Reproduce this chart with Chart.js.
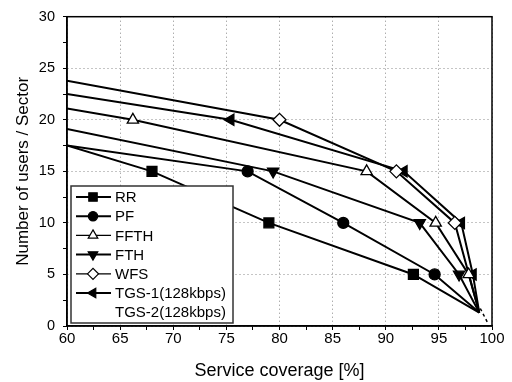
<!DOCTYPE html>
<html><head><meta charset="utf-8">
<script src="https://cdn.jsdelivr.net/npm/chart.js@4/dist/chart.umd.min.js"></script>
<style>html,body{margin:0;padding:0;background:#fff}canvas{display:block}</style>
</head><body><canvas id="c" width="512" height="382"></canvas>
<script>
// ---- data ----
const rrX   = [60, 68, 79, 92.6, 98.8];
const rrY   = [17.5, 15, 10, 5, 1.3];
const pfX   = [60, 77, 86, 94.6, 98.8];
const pfY   = [17.5, 15, 10, 5, 1.3];
const ffthX = [60, 66.2, 88.2, 94.7, 97.8, 98.8];
const ffthY = [21.1, 20, 15, 10, 5, 1.3];
const fthX  = [60, 79.4, 93.2, 96.9, 98.8];
const fthY  = [19.1, 15, 10, 5, 1.3];
const wfsX  = [60, 80, 91, 96.5, 98.8];
const wfsY  = [23.8, 20, 15, 10, 1.3];
const tgs1X = [60, 75.4, 91.7, 97.1, 98.2, 98.8];
const tgs1Y = [22.5, 20, 15, 10, 5, 1.3];
const tgs2X = [98.9, 99.6];
const tgs2Y = [1.7, 0.3];
const xTicks = [60, 65, 70, 75, 80, 85, 90, 95, 100];
const yTicks = [0, 5, 10, 15, 20, 25, 30];

const pts = (xs, ys) => xs.map((x, i) => ({x: x, y: ys[i]}));
const FONT = '"Liberation Sans", Arial, sans-serif';

function mk(label, xs, ys, style, rot, r, fill, extra) {
  const n = xs.length;
  return Object.assign({
    label: label,
    data: pts(xs, ys),
    borderColor: '#000',
    borderWidth: 2,
    pointStyle: style,
    rotation: rot,
    pointBackgroundColor: fill,
    pointBorderColor: '#000',
    pointBorderWidth: 1.3,
    pointRadius: ctx => (ctx.dataIndex === 0 || ctx.dataIndex === n - 1) ? 0 : r,
    lgRadius: r,
    showLine: true,
    fill: false,
    tension: 0
  }, extra || {});
}

const datasets = [
  mk('RR', rrX, rrY, 'rect', 0, 7, '#000'),
  mk('PF', pfX, pfY, 'circle', 0, 5.5, '#000'),
  mk('FFTH', ffthX, ffthY, 'triangle', 0, 6.5, '#fff', {lgThin: true}),
  mk('FTH', fthX, fthY, 'triangle', 180, 6.5, '#000'),
  mk('WFS', wfsX, wfsY, 'rectRot', 0, 6.5, '#fff', {lgThin: true}),
  mk('TGS-1(128kbps)', tgs1X, tgs1Y, 'triangle', -90, 6.5, '#000'),
  mk('TGS-2(128kbps)', tgs2X, tgs2Y, 'circle', 0, 0, '#fff', {borderDash: [3, 3], borderWidth: 1.5, noSample: true})
];

const legendPlugin = {
  id: 'insideLegend',
  afterDatasetsDraw(chart) {
    const ctx = chart.ctx;
    ctx.save();
    const x0 = 71, y0 = 186, w = 162, h = 137;
    ctx.fillStyle = '#fff';
    ctx.fillRect(x0, y0, w, h);
    ctx.strokeStyle = '#333';
    ctx.lineWidth = 1.5;
    ctx.strokeRect(x0, y0, w, h);
    chart.data.datasets.forEach((ds, i) => {
      const y = 197 + i * 19.2;
      if (!ds.noSample) {
        ctx.setLineDash([]);
        ctx.strokeStyle = '#000';
        ctx.lineWidth = ds.lgThin ? 1.2 : 2;
        ctx.beginPath(); ctx.moveTo(76, y); ctx.lineTo(111, y); ctx.stroke();
        ctx.fillStyle = ds.pointBackgroundColor;
        ctx.strokeStyle = '#000';
        ctx.lineWidth = 1.2;
        Chart.helpers.drawPoint(ctx, {pointStyle: ds.pointStyle, rotation: ds.rotation, radius: ds.lgRadius * 0.85, borderWidth: 1.2}, 93, y);
      }
      ctx.fillStyle = '#000';
      ctx.font = '15px ' + FONT;
      ctx.textBaseline = 'middle';
      ctx.textAlign = 'left';
      ctx.fillText(ds.label, 115, y + 1);
    });
    ctx.restore();
  },
  afterDraw(chart) {
    const a = chart.chartArea, ctx = chart.ctx;
    ctx.save();
    ctx.strokeStyle = '#000';
    ctx.lineWidth = 1.5;
    ctx.strokeRect(a.left, a.top, a.right - a.left, a.bottom - a.top);
    ctx.restore();
  }
};

const gridColor = ctx => {
  const v = ctx.tick && ctx.tick.value;
  if (v === undefined) return 'transparent';
  return (Math.abs(v % 5) < 1e-6) ? '#8a8a8a' : 'transparent';
};

new Chart(document.getElementById('c'), {
  type: 'scatter',
  data: { datasets: datasets },
  options: {
    responsive: false,
    animation: false,
    layout: { padding: { top: 15, right: 20, left: 0, bottom: 0 } },
    plugins: { legend: { display: false }, tooltip: { enabled: false } },
    scales: {
      x: {
        type: 'linear', min: 60, max: 100,
        afterFit: s => { s.height = 56; },
        afterBuildTicks: s => { s.ticks = []; for (let v = 60; v <= 100; v += 2.5) s.ticks.push({value: v}); },
        ticks: {
          autoSkip: false, maxRotation: 0, padding: 0, color: '#000',
          font: { family: FONT, size: 15 },
          callback: v => xTicks.includes(v) ? String(v) : ''
        },
        grid: { color: gridColor, lineWidth: 1, tickColor: '#000', tickLength: 4, tickBorderDash: [], drawOnChartArea: true },
        border: { display: true, color: '#000', width: 1.5, dash: [1, 3] },
        title: { display: true, text: 'Service coverage [%]', color: '#000', font: { family: FONT, size: 18 }, padding: { top: 0, bottom: 0 } }
      },
      y: {
        type: 'linear', min: 0, max: 30,
        afterFit: s => { s.width = 67; },
        afterBuildTicks: s => { s.ticks = []; for (let v = 0; v <= 30; v += 2.5) s.ticks.push({value: v}); },
        ticks: {
          autoSkip: false, padding: 8, color: '#000',
          font: { family: FONT, size: 14.5 },
          callback: v => yTicks.includes(v) ? String(v) : ''
        },
        grid: { color: gridColor, lineWidth: 1, tickColor: '#000', tickLength: 4, tickBorderDash: [] },
        border: { display: true, color: '#000', width: 1.5, dash: [1, 3] },
        title: { display: true, text: 'Number of users / Sector', color: '#000', font: { family: FONT, size: 17 }, padding: { top: 13, bottom: 0 } }
      }
    }
  },
  plugins: [legendPlugin]
});
</script>
</body></html>
